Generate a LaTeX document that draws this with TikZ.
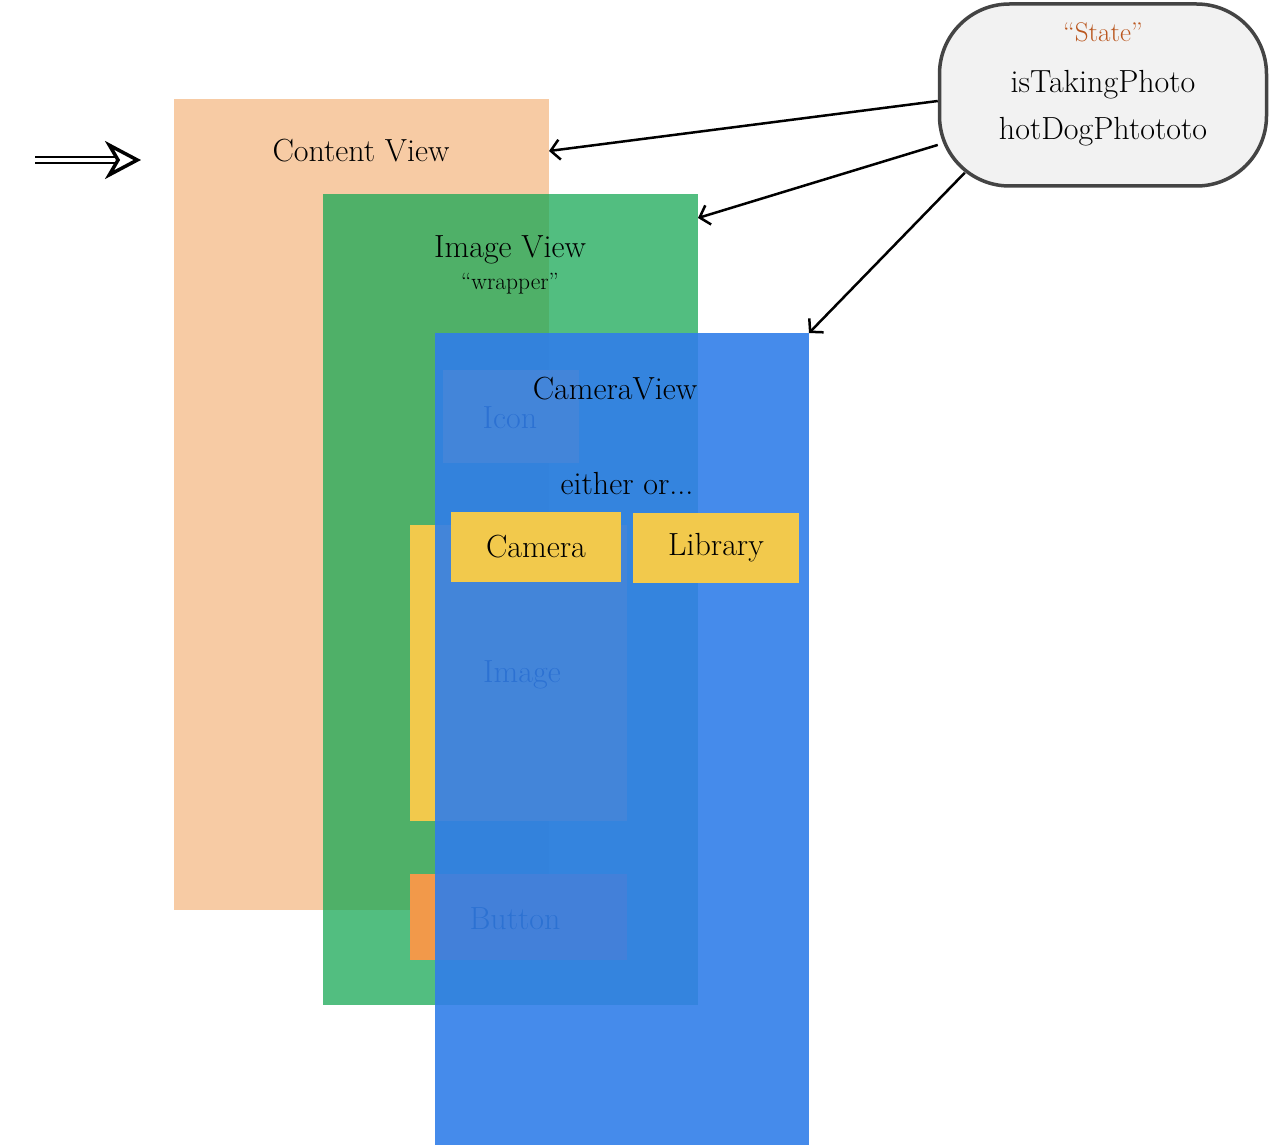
\documentclass[tikz,border=0pt]{standalone}
\usepackage{tikz}
\usetikzlibrary{arrows.meta,calc,positioning}
\definecolor{viewpeach}{RGB}{247,203,164}
\definecolor{viewgreen}{RGB}{24,168,85}
\definecolor{viewblue}{RGB}{49,126,233}
\definecolor{partyellow}{RGB}{242,201,76}
\definecolor{partorange}{RGB}{242,153,74}
\definecolor{statefill}{RGB}{242,242,242}
\definecolor{stateline}{RGB}{68,68,68}
\definecolor{statetitle}{RGB}{186,86,30}
\tikzset{
  viewbox/.style={anchor=north west, inner sep=0pt, outer sep=0pt},
  label txt/.style={font=\fontsize{32}{38}\selectfont, inner sep=0pt},
  small txt/.style={font=\fontsize{23.5}{28}\selectfont, inner sep=0pt},
  watcharrow/.style={line width=2.5pt, -{Straight Barb[length=9pt,width=20pt]}},
}
\begin{document}
\begin{tikzpicture}[x=1pt,y=-1pt]
			%%%%% START %%%%%
			\useasboundingbox (0,0) rectangle (1270,1145);
			
			% views, back to front
			\node[viewbox, fill=viewpeach, minimum width=375, minimum height=811] (content) at (174,99) {};
			\node[label txt] (contenttitle) at (361,151) {Content View};
			
			\node[viewbox, fill=viewgreen, fill opacity=0.75, minimum width=375, minimum height=811] (image) at (323,194) {};
			\node[label txt] (imagetitle) at (510,250) {Image View};
			\node[small txt] (wrapper) at (510,284) {``wrapper''};
			
			% parts that sit under the camera view
			\node[viewbox, fill=partyellow, minimum width=136, minimum height=93] (icon) at (443,370) {};
			\node[label txt] (icontxt) at (510,418) {Icon};
			\node[viewbox, fill=partyellow, minimum width=217, minimum height=296] (picture) at (410,525) {};
			\node[label txt] (picturetxt) at (522,675) {Image};
			\node[viewbox, fill=partorange, minimum width=217, minimum height=86] (button) at (410,874) {};
			\node[label txt] (buttontxt) at (515,919) {Button};
			
			\node[viewbox, fill=viewblue, fill opacity=0.9, minimum width=374, minimum height=812] (camview) at (435,333) {};
			\node[label txt] (camtitle) at (615,389) {CameraView};
			\node[label txt] (eitheror) at (627,484) {either or...};
			
			\node[viewbox, fill=partyellow, minimum width=170, minimum height=70] (camera) at (451,512) {};
			\node[label txt] at (camera) {Camera};
			\node[viewbox, fill=partyellow, minimum width=166, minimum height=70] (library) at (633,513) {};
			\node[label txt] at (library) {Library};
			
			% state bubble
			\node[draw=stateline, line width=3.5pt, fill=statefill, rounded corners=70pt,
			  minimum width=327, minimum height=182, inner sep=0pt] (state) at (1103,95) {};
			\node[label txt, font=\fontsize{27}{32}\selectfont, text=statetitle] (statetitle) at (1103,32) {``State''};
			\node[label txt] (taking) at (1103,85) {isTakingPhoto};
			\node[label txt] (hotdog) at (1103,132) {hotDogPhtototo};
			
			\draw[watcharrow] ($(state.west)+(0,6)$) -- (contenttitle -| content.east);
			\draw[watcharrow] (state) -- ($(image.north east)+(0,24)$);
			\draw[watcharrow] ($(state.south west)+(27,-15)$) -- (camview.north east);
			
			% entry arrow
			\coordinate (entry) at (35,160);
			\coordinate (entryend) at (141,160);
			\draw[line width=2pt, double=white, double distance=4pt,
			  -{Stealth[open, length=36pt, width=38pt, inset=11pt, line width=3.5pt, fill=white]}] (entry) -- (entryend);
			
			%%%%% END %%%%%
\end{tikzpicture}
\end{document}
